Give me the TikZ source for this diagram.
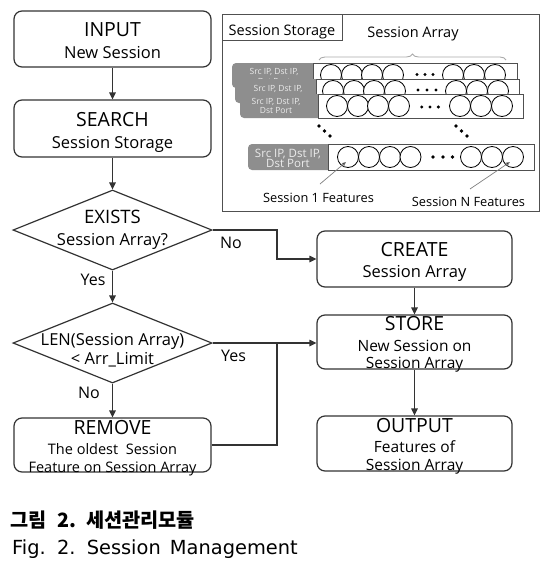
\documentclass[tikz,border=0pt]{standalone}
\usepackage{fontspec}
\setmainfont{Open Sans}
\newfontfamily\capfont{DejaVu Sans}
\newfontfamily\krfont{Noto Sans CJK KR}
\usetikzlibrary{arrows.meta,shapes.geometric,decorations.pathreplacing}
\definecolor{linec}{HTML}{333333}
\definecolor{labgray}{HTML}{8E8E8E}
\definecolor{labtext}{HTML}{EBEBEB}
\definecolor{panelc}{HTML}{505050}
\definecolor{bracec}{HTML}{AAAAAA}
\newcommand\szT{\fontsize{19.5}{22}\selectfont}
\newcommand\szS{\fontsize{16.5}{19}\selectfont}
\newcommand\szM{\fontsize{15.5}{18}\selectfont}
\newcommand\szR{\fontsize{14.5}{17}\selectfont}
\newcommand\szP{\fontsize{14.5}{17}\selectfont}
\newcommand\szF{\fontsize{12.8}{15}\selectfont}
\newcommand\szA{\fontsize{8.5}{10}\selectfont}
\newcommand\szB{\fontsize{11.5}{13}\selectfont}
\newcommand\szK{\krfont\bfseries\fontsize{19.7}{22}\selectfont}
\begin{document}
\begin{tikzpicture}[x=1pt,y=-1pt,
  box/.style={draw=linec, line width=1.2pt, rounded corners=8pt, inner sep=0pt},
  lbox/.style={box, minimum width=197pt},
  rbox/.style={box, minimum width=195pt},
  dia/.style={diamond, draw=linec, line width=1.2pt, inner sep=0pt, minimum width=199pt, minimum height=80pt, aspect=2.5},
  txt/.style={inner sep=0pt, anchor=base, text=black},
  arr/.style={draw=linec, line width=1.2pt, -{Triangle[length=7pt,width=6.5pt]}},
  conn/.style={draw=linec, line width=1.2pt},
  rowlab/.style={inner sep=0pt, anchor=base, text=labtext, font=\szA},
  cir/.style={draw=black, line width=0.8pt, fill=white},
  dotc/.style={fill=black},
  captxt/.style={inner sep=0pt, anchor=base west, font=\szK}
]
\useasboundingbox (0,0) rectangle (553,568);
\fill[white] (0,0) rectangle (553,568);

% ---------- left column ----------
\node[lbox, minimum height=56pt] (input) at (112.5,39) {};
\node[txt, font=\szT] (inputT) at (112.5,36) {INPUT};
\node[txt, font=\szS] (inputS) at (112.5,58) {New Session};

\node[lbox, minimum height=57pt] (search) at (112.5,128.5) {};
\node[txt, font=\szT] (searchT) at (112.5,126) {SEARCH};
\node[txt, font=\szS] (searchS) at (112.5,148) {Session Storage};

\node[dia] (exists) at (112.5,230) {};
\node[txt, font=\fontsize{18.5}{21}\selectfont] (existsT) at (112.5,223) {EXISTS};
\node[txt, font=\szS] (existsS) at (112.5,245) {Session Array?};

\node[dia] (len) at (112.5,343) {};
\node[txt, font=\szS] (lenT) at (112.5,345) {LEN(Session Array)};
\node[txt, font=\szS] (lenS) at (112.5,364) {<\ Arr\_Limit};

\node[lbox, minimum height=54pt] (remove) at (112.5,445) {};
\node[txt, font=\szT] (removeT) at (112.5,434) {REMOVE};
\node[txt, font=\szR] (removeS1) at (112.5,454) {The oldest\ \ Session};
\node[txt, font=\szR] (removeS2) at (112.5,472) {Feature on\ Session\ Array};

% ---------- right column ----------
\node[rbox, minimum height=56pt] (create) at (414.5,259) {};
\node[txt, font=\szT] (createT) at (414.5,256) {CREATE};
\node[txt, font=\szS] (createS) at (414.5,277) {Session Array};

\node[rbox, minimum height=54pt] (store) at (414.5,342) {};
\node[txt, font=\szT] (storeT) at (414.5,330) {STORE};
\node[txt, font=\szM] (storeS1) at (414.5,351) {New Session on};
\node[txt, font=\szM] (storeS2) at (414.5,368) {Session Array};

\node[rbox, minimum height=55pt] (output) at (414.5,443.5) {};
\node[txt, font=\szT] (outputT) at (414.5,432) {OUTPUT};
\node[txt, font=\szM] (outputS1) at (414.5,452) {Features of};
\node[txt, font=\szM] (outputS2) at (414.5,470) {Session Array};

% ---------- connectors ----------
\coordinate (j1) at (277,230);
\coordinate (j2) at (277,343);
\draw[arr] (input.south) -- (search.north);
\draw[arr] (search.south) -- (exists.north);
\draw[arr] (exists.east) -- (j1) |- (create.west);
\draw[arr] (exists.south) -- (len.north);
\draw[arr] (len.east) -- (len.east -| store.west);
\draw[arr] (len.south) -- (remove.north);
\draw[conn] (remove.east) -| (j2);
\draw[arr] (create.south) -- (store.north);
\draw[arr] (store.south) -- (output.north);

\node[txt, font=\fontsize{16}{18}\selectfont] (no1) at (231,248) {No};
\node[txt, font=\fontsize{16}{18}\selectfont] (yes1) at (93,285) {Yes};
\node[txt, font=\fontsize{16}{18}\selectfont] (yes2) at (233.5,361) {Yes};
\node[txt, font=\fontsize{16}{18}\selectfont] (no2) at (89,398) {No};

% ---------- session storage panel ----------
\draw[panelc, line width=1pt] (222,14) rectangle (539,211);
\draw[panelc, line width=1pt] (222,14) rectangle (342,40);
\node[txt, font=\szP] (ssT) at (282,35) {Session Storage};
\node[txt, font=\szP] (saT) at (413,37) {Session Array};
\draw[bracec, line width=0.9pt, decorate, decoration={brace, amplitude=6pt}] (319,60) -- (506,60);

% row 1
\fill[labgray, rounded corners=4pt] (232,63) rectangle (320,88);
\node[rowlab] (r1a) at (274,74) {Src IP, Dst IP,};
\node[rowlab] (r1b) at (274,84) {Dst Port};
\draw[panelc, line width=0.8pt, fill=white] (313,63) rectangle (517,87);
\foreach \c in {331,352,372,393,453,474,495} \draw[cir] (\c,75) circle (10.5pt);
\foreach \c in {417,425,433} \fill[dotc] (\c,74.5) circle (1.7pt);

% row 2
\fill[labgray, rounded corners=4pt] (235,79) rectangle (322,103);
\node[rowlab] (r2a) at (278,91) {Src IP, Dst IP,};
\draw[panelc, line width=0.8pt, fill=white] (316,79) rectangle (519,103);
\foreach \c in {333,354,374,395,456,477,498} \draw[cir] (\c,91) circle (10.5pt);
\foreach \c in {418,427,436} \fill[dotc] (\c,90) circle (1.7pt);

% row 3
\fill[labgray, rounded corners=4pt] (240,94) rectangle (324,118);
\node[rowlab] (r3a) at (276,104.5) {Src IP, Dst IP,};
\node[rowlab] (r3b) at (276,113.5) {Dst Port};
\draw[panelc, line width=0.8pt, fill=white] (318,94) rectangle (523,118);
\foreach \c in {337,358,378,399,460,481,502} \draw[cir] (\c,106) circle (10.5pt);
\foreach \c in {421.7,430,438.3} \fill[dotc] (\c,107) circle (1.7pt);

% vertical ellipsis
\foreach \p in {(319,126),(324.5,131),(330,136),(456,126),(461.5,131),(467,136)} \fill[dotc] \p circle (1.8pt);

% last row
\fill[labgray, rounded corners=4pt] (248,144) rectangle (334,170);
\node[txt, text=labtext, font=\szB] (rNa) at (288,157) {Src IP, Dst IP,};
\node[txt, text=labtext, font=\szB] (rNb) at (288,167.5) {Dst Port};
\draw[panelc, line width=0.8pt, fill=white] (328,144) rectangle (534,170);
\foreach \c in {348,369,390,410.5,471,492,513} \draw[cir] (\c,157) circle (10.5pt);
\foreach \c in {433,443,452.5} \fill[dotc] (\c,157) circle (1.9pt);

% feature pointers
\coordinate (f1s) at (320,184);
\coordinate (f1e) at (346,162);
\coordinate (fNs) at (470,189);
\coordinate (fNe) at (510,162);
\draw[draw=gray, line width=0.7pt, -{Triangle[length=4pt,width=3.5pt,fill=black]}] (f1s) -- (f1e);
\draw[draw=gray, line width=0.7pt, -{Triangle[length=4pt,width=3.5pt,fill=black]}] (fNs) -- (fNe);
\node[txt, font=\szF] (s1f) at (318.5,202) {Session 1 Features};
\node[txt, font=\szF] (snf) at (468.5,206) {Session N Features};

% ---------- caption ----------
\node[captxt] (cap1a) at (10,527.5) {그림};
\node[captxt] (cap1b) at (57,527.5) {2.};
\node[captxt] (cap1c) at (86,527.5) {세션관리모듈};
\node[inner sep=0pt, anchor=base west] (cap2) at (12,554) {\capfont\fontsize{19.4}{22}\selectfont Fig.\hspace{3pt} 2.\hspace{3pt} Session\hspace{3pt} Management};
\end{tikzpicture}
\end{document}
